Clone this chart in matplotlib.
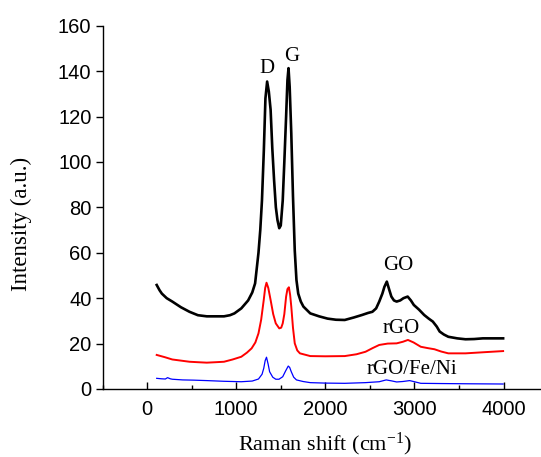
import matplotlib
matplotlib.use("Agg")
import matplotlib.pyplot as plt
from matplotlib.ticker import MultipleLocator

plt.rcParams["mathtext.fontset"] = "custom"
plt.rcParams["mathtext.rm"] = "Liberation Serif"
plt.rcParams["mathtext.it"] = "Liberation Serif:italic"

# Raman shift (cm-1) and intensities
go_x = [108, 140, 166, 220, 283, 380, 476, 570, 670, 770, 863, 930, 980, 1057, 1134, 1180, 1212,
        1250, 1270, 1289, 1310, 1328, 1347, 1366, 1386, 1405, 1425, 1445, 1463, 1483, 1500,
        1522, 1540, 1560, 1575, 1587, 1600, 1618, 1637, 1657, 1676, 1696, 1725, 1754, 1831,
        1930, 2025, 2120, 2218, 2320, 2412, 2480, 2528, 2570, 2605, 2640, 2663, 2690, 2715,
        2741, 2770, 2800, 2840, 2877, 2924, 2960, 2993, 3050, 3109, 3160, 3206, 3250, 3283,
        3330, 3380, 3480, 3573, 3670, 3767, 3880, 3995]
go_y = [45.8, 43.5, 42.0, 40.0, 38.5, 36.0, 34.0, 32.5, 32.0, 32.0, 32.0, 32.5, 33.3, 35.5, 39.0,
        42.5, 46.5, 60.0, 70.0, 83.0, 105.0, 128.0, 135.4, 131.0, 123.0, 106.0, 92.0, 80.0,
        74.4, 70.8, 72.0, 83.0, 100.0, 120.0, 136.0, 141.3, 133.0, 112.6, 85.0, 61.0, 48.0,
        42.0, 38.5, 36.3, 33.3, 32.0, 31.0, 30.5, 30.4, 31.5, 32.6, 33.5, 34.0, 35.5, 38.5,
        42.0, 45.0, 47.3, 44.0, 40.7, 39.0, 38.5, 39.0, 40.0, 40.7, 39.0, 37.0, 35.0, 32.6,
        31.0, 29.7, 27.5, 25.3, 24.0, 23.0, 22.3, 21.9, 22.0, 22.3, 22.3, 22.3]

rgo_x = [108, 200, 283, 380, 476, 570, 670, 770, 863, 960, 1057, 1120, 1173, 1215, 1250, 1280,
         1309, 1325, 1340, 1360, 1386, 1415, 1444, 1483, 1505, 1522, 1540, 1560, 1575, 1591,
         1605, 1618, 1637, 1657, 1685, 1715, 1831, 2000, 2218, 2350, 2451, 2530, 2605, 2700,
         2800, 2870, 2927, 2990, 3071, 3150, 3225, 3300, 3380, 3573, 3780, 3995]
rgo_y = [15.0, 14.0, 13.0, 12.5, 12.0, 11.8, 11.6, 11.8, 12.0, 13.0, 14.2, 16.0, 17.9, 20.5,
         24.5, 30.5, 39.2, 44.5, 46.8, 44.5, 39.2, 33.0, 28.9, 26.7, 27.0, 28.9, 33.0, 40.7,
         44.0, 44.8, 41.5, 36.3, 27.0, 20.1, 17.0, 15.7, 14.5, 14.4, 14.5, 15.3, 16.4, 18.0,
         19.4, 20.0, 20.1, 20.8, 21.6, 20.5, 18.6, 18.0, 17.5, 16.5, 15.7, 15.7, 16.2, 16.7]

fe_x = [108, 160, 205, 230, 260, 283, 400, 520, 670, 860, 1057, 1180, 1250, 1290, 1309, 1325,
        1340, 1358, 1375, 1410, 1444, 1480, 1522, 1555, 1584, 1600, 1618, 1645, 1676, 1750,
        1831, 2000, 2218, 2450, 2605, 2683, 2740, 2800, 2870, 2946, 3000, 3071, 3300, 3600,
        3995]
fe_y = [4.7, 4.5, 4.4, 5.0, 4.5, 4.3, 4.0, 3.9, 3.7, 3.4, 3.2, 3.5, 4.4, 6.5, 9.1, 12.5, 14.0,
        11.0, 7.6, 5.2, 4.3, 4.3, 5.4, 8.0, 10.1, 9.5, 7.6, 5.2, 4.0, 3.3, 2.8, 2.6, 2.5, 2.8,
        3.2, 4.0, 3.6, 3.1, 3.3, 3.7, 3.2, 2.5, 2.4, 2.3, 2.2]

x_ticks = [0, 1000, 2000, 3000, 4000]
y_ticks = [0, 20, 40, 60, 80, 100, 120, 140, 160]

fig = plt.figure(figsize=(5.41, 4.57), dpi=100)
ax = fig.add_axes([0.1895, 0.1488, 1.0 - 0.1895, 0.795])

ax.plot(go_x, go_y, color="black", lw=1.9)
ax.plot(rgo_x, rgo_y, color="#ff0000", lw=1.4)
ax.plot(fe_x, fe_y, color="#0000ff", lw=0.9)

ax.set_xlim(-500, 4420)
ax.set_ylim(0, 160)
ax.set_xticks(x_ticks)
ax.set_yticks(y_ticks)
ax.xaxis.set_minor_locator(MultipleLocator(500))

for s in ["top", "right"]:
    ax.spines[s].set_visible(False)
for s in ["left", "bottom"]:
    ax.spines[s].set_linewidth(1.0)

tick_font = "Liberation Sans"
ax.tick_params(axis="x", which="major", direction="in", length=5, width=1, pad=8,
               labelsize=14.5)
ax.tick_params(axis="x", which="minor", direction="in", length=3, width=1)
ax.tick_params(axis="y", which="major", direction="out", length=5, width=1, pad=3,
               labelsize=14.5)
for lab in ax.get_xticklabels() + ax.get_yticklabels():
    lab.set_fontfamily(tick_font)

serif = "Liberation Serif"
ax.set_xlabel(r"Raman shift (cm$^{\mathrm{-1}}$)", fontfamily=serif, fontsize=16,
              va="center", ha="center")
ax.xaxis.set_label_coords(0.507, -0.152)
ax.set_ylabel("Intensity (a.u.)", fontfamily=serif, fontsize=16.5, va="center", ha="center")
ax.yaxis.set_label_coords(-0.184, 0.455)

ann = dict(fontfamily=serif, fontsize=15, ha="center", va="center")
ax.text(1348, 141.2, "D", **ann)
ax.text(1620, 146.6, "G", **ann)
ax.text(2817, 54.2, "GO", **ann)
ax.text(2847, 26.7, "rGO", **ann)
ax.text(2967, 8.7, "rGO/Fe/Ni", **ann)

fig.savefig("out.png", dpi=100)
